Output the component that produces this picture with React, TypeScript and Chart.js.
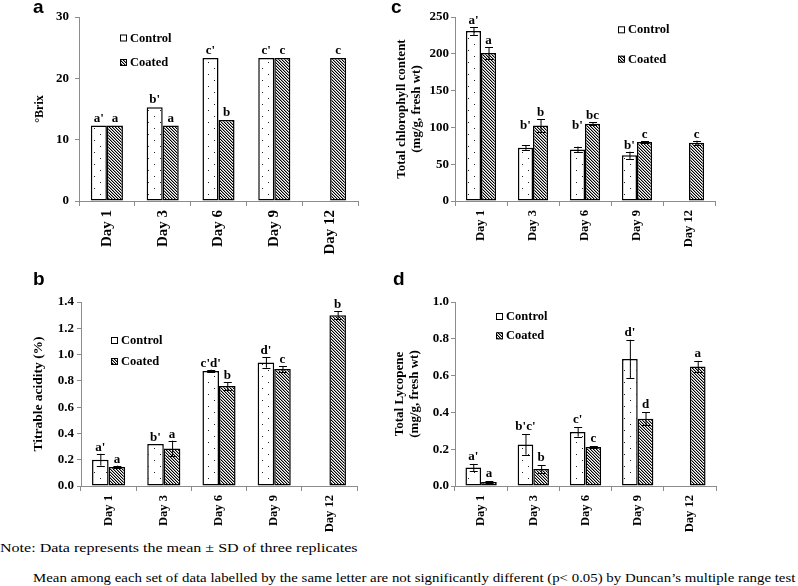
import React, { useEffect, useRef } from 'react';
import { Chart, registerables } from 'chart.js';

Chart.register(...registerables);

// ---------- data ----------
const days = ['Day 1', 'Day 3', 'Day 6', 'Day 9', 'Day 12'];
const seriesNames = ['Control', 'Coated'];

// (a) °Brix
const brixControl = [12.3, 15.3, 23.3, 23.3, null];
const brixCoated = [12.3, 12.3, 13.2, 23.3, 23.3];
const brixControlLetters = ["a'", "b'", "c'", "c'", ''];
const brixCoatedLetters = ['a', 'a', 'b', 'c', 'c'];

// (b) Titrable acidity (%)
const acidControl = [0.2, 0.32, 0.875, 0.94, null];
const acidControlSD = [0.045, 0, 0.01, 0.04, 0];
const acidCoated = [0.145, 0.285, 0.76, 0.89, 1.3];
const acidCoatedSD = [0.01, 0.06, 0.03, 0.02, 0.03];
const acidControlLetters = ["a'", "b'", "c'd'", "d'", ''];
const acidCoatedLetters = ['a', 'a', 'b', 'c', 'b'];

// (c) Total chlorophyll content (mg/g, fresh wt)
const chlControl = [231, 72.5, 70, 62, null];
const chlControlSD = [5.5, 3, 4, 5, 0];
const chlCoated = [201, 102.5, 105, 80, 79];
const chlCoatedSD = [8, 8.5, 2, 1, 3];
const chlControlLetters = ["a'", "b'", "b'", "b'", ''];
const chlCoatedLetters = ['a', 'b', 'bc', 'c', 'c'];

// (d) Total Lycopene (mg/g, fresh wt)
const lycControl = [0.1, 0.225, 0.293, 0.69, null];
const lycControlSD = [0.02, 0.055, 0.025, 0.105, 0];
const lycCoated = [0.022, 0.093, 0.212, 0.365, 0.65];
const lycCoatedSD = [0.003, 0.02, 0.003, 0.035, 0.03];
const lycControlLetters = ["a'", "b'c'", "c'", "d'", ''];
const lycCoatedLetters = ['a', 'b', 'c', 'd', 'a'];

// ---------- styling ----------
const SERIF = '"Liberation Serif", "Times New Roman", serif';
const SANS = '"Liberation Sans", Arial, sans-serif';
const AXIS = '#8c8c8c';

function makeDots() {
  const c = document.createElement('canvas');
  c.width = 12; c.height = 12;
  const g = c.getContext('2d');
  g.fillStyle = '#fff'; g.fillRect(0, 0, 12, 12);
  g.fillStyle = '#222';
  g.fillRect(10, 8, 1, 1);
  g.fillRect(4, 2, 1, 1);
  return g.createPattern(c, 'repeat');
}

function makeHatch() {
  const s = 3;
  const c = document.createElement('canvas');
  c.width = s; c.height = s;
  const g = c.getContext('2d');
  g.fillStyle = '#fff'; g.fillRect(0, 0, s, s);
  for (let y = 0; y < s; y++) {
    for (let x = 0; x < s; x++) {
      const d = (x - y + s * 2) % s;
      if (d === 0) { g.fillStyle = '#000'; g.fillRect(x, y, 1, 1); }
      else if (d === 1) { g.fillStyle = '#9a9a9a'; g.fillRect(x, y, 1, 1); }
    }
  }
  return g.createPattern(c, 'repeat');
}

type Panel = {
  key: string;
  left: number; top: number; width: number; height: number;
  area: { l: number; t: number; r: number; b: number };
  control: (number | null)[]; coated: (number | null)[];
  controlSD?: number[]; coatedSD?: number[];
  controlLetters: string[]; coatedLetters: string[];
  controlLift?: number[];
  yMin: number; yMax: number; yStep: number; decimals: number;
  yTitle: string | string[]; titleSize: number; titlePad: number;
  tickPad: number; xFont: number; xGap: number; cat: number;
  legendX: number; legendY: [number, number];
  letterGap: number;
};

const panels: Panel[] = [
  {
    key: 'a', left: 0, top: 0, width: 392, height: 260,
    area: { l: 79, t: 17, r: 358, b: 201 },
    control: brixControl, coated: brixCoated,
    controlLetters: brixControlLetters, coatedLetters: brixCoatedLetters,
    yMin: 0, yMax: 30, yStep: 10, decimals: 0,
    yTitle: '°Brix', titleSize: 12, titlePad: 33,
    tickPad: 6, xFont: 15, xGap: 9, cat: 0.575,
    legendX: 120, legendY: [41.5, 66], letterGap: 4,
  },
  {
    key: 'c', left: 392, top: 0, width: 406, height: 260,
    area: { l: 63, t: 17, r: 323, b: 201 },
    control: chlControl, coated: chlCoated,
    controlSD: chlControlSD, coatedSD: chlCoatedSD,
    controlLetters: chlControlLetters, coatedLetters: chlCoatedLetters,
    controlLift: [0, 13, 15, 0, 0],
    yMin: 0, yMax: 250, yStep: 50, decimals: 0,
    yTitle: ['Total chlorophyll content', '(mg/g, fresh wt)'], titleSize: 13, titlePad: 2,
    tickPad: 2, xFont: 12.5, xGap: 9, cat: 0.58,
    legendX: 226, legendY: [33.3, 62.7], letterGap: 3,
  },
  {
    key: 'b', left: 0, top: 260, width: 392, height: 280,
    area: { l: 81, t: 42, r: 357, b: 226 },
    control: acidControl, coated: acidCoated,
    controlSD: acidControlSD, coatedSD: acidCoatedSD,
    controlLetters: acidControlLetters, coatedLetters: acidCoatedLetters,
    yMin: 0, yMax: 1.4, yStep: 0.2, decimals: 1,
    yTitle: 'Titrable acidity (%)', titleSize: 13.5, titlePad: 31,
    tickPad: 3, xFont: 12.5, xGap: 9, cat: 0.6,
    legendX: 111, legendY: [84, 105], letterGap: 3,
  },
  {
    key: 'd', left: 392, top: 260, width: 406, height: 280,
    area: { l: 63, t: 42, r: 324, b: 226 },
    control: lycControl, coated: lycCoated,
    controlSD: lycControlSD, coatedSD: lycCoatedSD,
    controlLetters: lycControlLetters, coatedLetters: lycCoatedLetters,
    yMin: 0, yMax: 1.0, yStep: 0.2, decimals: 1,
    yTitle: ['Total Lycopene', '(mg/g, fresh wt)'], titleSize: 13, titlePad: 0,
    tickPad: 2, xFont: 12.5, xGap: 9, cat: 0.6,
    legendX: 104, legendY: [60, 79.3], letterGap: 4,
  },
];

function makeOverlay(p: Panel, dots: any, hatch: any) {
  return {
    id: 'overlay-' + p.key,
    afterDatasetsDraw(chart: any) {
      const ctx = chart.ctx;
      const ys = chart.scales.y;
      const sets = [
        { vals: p.control, sd: p.controlSD, letters: p.controlLetters, lift: p.controlLift },
        { vals: p.coated, sd: p.coatedSD, letters: p.coatedLetters, lift: undefined as number[] | undefined },
      ];
      sets.forEach((s, di) => {
        const meta = chart.getDatasetMeta(di);
        s.vals.forEach((v, j) => {
          if (v == null) return;
          const el = meta.data[j];
          if (!el) return;
          const x = el.x;
          const e = s.sd ? s.sd[j] : 0;
          ctx.save();
          if (e > 0) {
            const yt = ys.getPixelForValue(v + e);
            const yb = ys.getPixelForValue(v - e);
            ctx.strokeStyle = '#000';
            ctx.lineWidth = 1;
            ctx.beginPath();
            ctx.moveTo(x + 0.5, yt); ctx.lineTo(x + 0.5, yb);
            ctx.moveTo(x - 3.5, Math.round(yt) + 0.5); ctx.lineTo(x + 4.5, Math.round(yt) + 0.5);
            ctx.moveTo(x - 3.5, Math.round(yb) + 0.5); ctx.lineTo(x + 4.5, Math.round(yb) + 0.5);
            ctx.stroke();
          }
          const txt = s.letters[j];
          if (txt) {
            const lift = s.lift ? s.lift[j] : 0;
            ctx.fillStyle = '#000';
            ctx.font = `bold 13px ${SERIF}`;
            ctx.textAlign = 'center';
            ctx.textBaseline = 'alphabetic';
            ctx.fillText(txt, x, ys.getPixelForValue(v + e) - p.letterGap - lift);
          }
          ctx.restore();
        });
      });
    },
    afterDraw(chart: any) {
      const ctx = chart.ctx;
      const xs = chart.scales.x;
      const bottom = chart.chartArea.bottom;
      (chart.data.labels as string[]).forEach((lab, i) => {
        const x = xs.getPixelForValue(i);
        ctx.save();
        ctx.translate(x, bottom + p.xGap);
        ctx.rotate(-Math.PI / 2);
        ctx.font = `bold ${p.xFont}px ${SERIF}`;
        ctx.fillStyle = '#000';
        ctx.textAlign = 'right';
        ctx.textBaseline = 'middle';
        ctx.fillText(lab, 0, 0);
        ctx.restore();
      });
      // legend
      seriesNames.forEach((name, i) => {
        const bx = p.legendX;
        const by = p.legendY[i];
        ctx.save();
        ctx.fillStyle = i === 0 ? '#fff' : hatch;
        ctx.fillRect(bx, by - 7, 7, 7);
        ctx.strokeStyle = '#000';
        ctx.lineWidth = 1;
        ctx.strokeRect(bx + 0.5, by - 6.5, 6, 6);
        ctx.fillStyle = '#000';
        ctx.font = `bold 12.5px ${SERIF}`;
        ctx.textAlign = 'left';
        ctx.textBaseline = 'alphabetic';
        ctx.fillText(name, bx + 10, by);
        ctx.restore();
      });
    },
  };
}

function PanelChart({ p }: { p: Panel }) {
  const ref = useRef<HTMLCanvasElement | null>(null);
  useEffect(() => {
    if (!ref.current) return;
    const dots = makeDots();
    const hatch = makeHatch();
    const chart = new Chart(ref.current, {
      type: 'bar',
      data: {
        labels: days,
        datasets: [
          {
            label: seriesNames[0], data: p.control as any, backgroundColor: dots as any,
            borderColor: '#000', borderWidth: 1.5, borderSkipped: false as any,
            categoryPercentage: p.cat, barPercentage: 1,
          },
          {
            label: seriesNames[1], data: p.coated as any, backgroundColor: hatch as any,
            borderColor: '#000', borderWidth: 1.5, borderSkipped: false as any,
            categoryPercentage: p.cat, barPercentage: 1,
          },
        ],
      },
      options: {
        responsive: false,
        animation: false,
        layout: { padding: { left: 0, top: p.area.t, right: p.width - p.area.r, bottom: 0 } },
        plugins: { legend: { display: false }, tooltip: { enabled: false } },
        scales: {
          x: {
            grid: { offset: true, drawOnChartArea: false, drawTicks: true, tickLength: 5, color: AXIS, lineWidth: 1 },
            border: { color: AXIS, width: 1 },
            ticks: { display: false },
            afterFit: (s: any) => { s.height = p.height - p.area.b; },
          },
          y: {
            min: p.yMin, max: p.yMax,
            ticks: {
              stepSize: p.yStep, color: '#000', padding: p.tickPad,
              font: { family: SERIF, size: 13, weight: 'bold' },
              callback: (v: any) => Number(v).toFixed(p.decimals),
            },
            grid: { drawOnChartArea: false, drawTicks: true, tickLength: 4, color: AXIS, lineWidth: 1 },
            border: { color: AXIS, width: 1 },
            title: {
              display: true, text: p.yTitle as any, color: '#000',
              font: { family: SERIF, size: p.titleSize, weight: 'bold', lineHeight: 1.15 },
              padding: { top: p.titlePad, bottom: 0 },
            },
            afterFit: (s: any) => { s.width = p.area.l; },
          },
        },
      } as any,
      plugins: [makeOverlay(p, dots, hatch)],
    });
    return () => chart.destroy();
  }, [p]);
  return (
    <canvas
      ref={ref}
      width={p.width}
      height={p.height}
      style={{ position: 'absolute', left: p.left, top: p.top, width: p.width, height: p.height }}
    />
  );
}

const panelLabels = [
  { text: 'a', left: 33, top: -3 },
  { text: 'c', left: 391, top: -3 },
  { text: 'b', left: 33, top: 269 },
  { text: 'd', left: 393, top: 269 },
];

export default function App() {
  return (
    <div style={{ position: 'absolute', left: 0, top: 0, width: 798, height: 586, background: '#fff', overflow: 'hidden' }}>
      {panels.map((p) => <PanelChart key={p.key} p={p} />)}
      {panelLabels.map((l) => (
        <div key={l.text} style={{ position: 'absolute', left: l.left, top: l.top, font: `bold 19px/19px ${SANS}`, color: '#000' }}>{l.text}</div>
      ))}
      <div style={{ position: 'absolute', left: 0, top: 541, font: `13px/13px ${SERIF}`, color: '#000', whiteSpace: 'nowrap', transform: 'scaleX(1.234)', transformOrigin: 'left top' }}>
        Note: Data represents the mean ± SD of three replicates
      </div>
      <div style={{ position: 'absolute', left: 33, top: 571, font: `13px/13px ${SERIF}`, color: '#000', whiteSpace: 'nowrap', transform: 'scaleX(1.143)', transformOrigin: 'left top' }}>
        Mean among each set of data labelled by the same letter are not significantly different (p&lt; 0.05) by Duncan’s multiple range test
      </div>
    </div>
  );
}
